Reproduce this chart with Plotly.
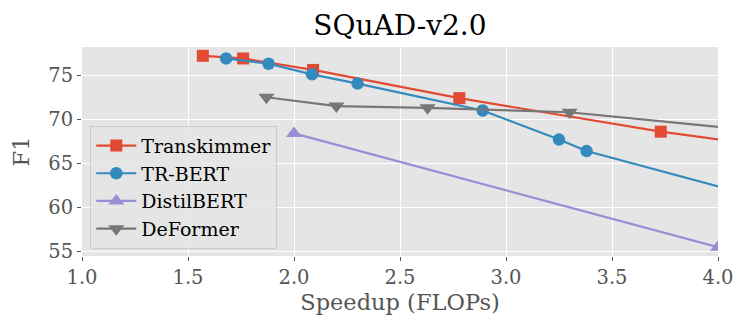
import plotly.graph_objects as go

# Data
trans_x = [1.57, 1.76, 2.09, 2.78, 3.73, 4.40]
trans_y = [77.2, 76.9, 75.6, 72.4, 68.6, 66.4]

trbert_x = [1.68, 1.88, 2.085, 2.30, 2.89, 3.25, 3.38, 4.40]
trbert_y = [76.9, 76.3, 75.1, 74.05, 71.0, 67.7, 66.4, 59.8]

distil_x = [2.00, 4.00]
distil_y = [68.4, 55.5]

deformer_x = [1.87, 2.20, 2.63, 3.30, 4.40]
deformer_y = [72.5, 71.5, 71.3, 70.8, 68.2]

x_ticks = [1.0, 1.5, 2.0, 2.5, 3.0, 3.5, 4.0]
y_ticks = [55, 60, 65, 70, 75]

FONT = "DejaVu Serif"

series = [
    ("Transkimmer", trans_x, trans_y, "#E24A33", "square", 12),
    ("TR-BERT", trbert_x, trbert_y, "#348ABD", "circle", 12.5),
    ("DistilBERT", distil_x, distil_y, "#988ED5", "triangle-up", 14),
    ("DeFormer", deformer_x, deformer_y, "#777777", "triangle-down", 14),
]

fig = go.Figure()
for i, (name, xs, ys, color, sym, msize) in enumerate(series):
    fig.add_trace(go.Scatter(
        x=xs, y=ys, name=name, mode="lines+markers",
        line=dict(color=color, width=2.2),
        marker=dict(symbol=sym, size=msize, color=color),
        legendgroup=f"g{i}",
        cliponaxis=True,
    ))

fig.update_layout(
    width=748, height=333,
    margin=dict(l=74, r=38, t=39, b=85),
    paper_bgcolor="white",
    plot_bgcolor="#E5E5E5",
    font=dict(family=FONT, color="#555555", size=19),
    title=dict(text="SQuAD-v2.0", x=0.524, xanchor="center", y=0.949, yanchor="middle",
               font=dict(family=FONT, size=28, color="black")),
    showlegend=True,
    legend=dict(
        x=0.013, y=0.035, xanchor="left", yanchor="bottom",
        bgcolor="rgba(229,229,229,0.85)", bordercolor="#cccccc", borderwidth=1,
        font=dict(family=FONT, size=19, color="black"),
        traceorder="grouped", tracegroupgap=0,
        itemwidth=40, entrywidth=134,
    ),
)

fig.update_xaxes(
    range=[1.0, 4.0], tickvals=x_ticks, ticktext=[f"{v:.1f}" for v in x_ticks],
    showgrid=True, gridcolor="white", gridwidth=1.2, zeroline=False,
    ticks="outside", ticklen=4, tickcolor="#555555", tickwidth=1,
    title=dict(text="Speedup (FLOPs)", font=dict(family=FONT, size=22.5, color="#555555"), standoff=5),
    tickfont=dict(family=FONT, size=19.5, color="#555555"),
    showline=False, automargin=False,
)
fig.update_yaxes(
    range=[54.5, 78.2], tickvals=y_ticks,
    showgrid=True, gridcolor="white", gridwidth=1.2, zeroline=False,
    ticks="outside", ticklen=4, tickcolor="#555555", tickwidth=1,
    title=dict(text="F1", font=dict(family=FONT, size=22.5, color="#555555"), standoff=16),
    tickfont=dict(family=FONT, size=19.5, color="#555555"),
    showline=False, automargin=False,
)

fig.write_html("out.html")
